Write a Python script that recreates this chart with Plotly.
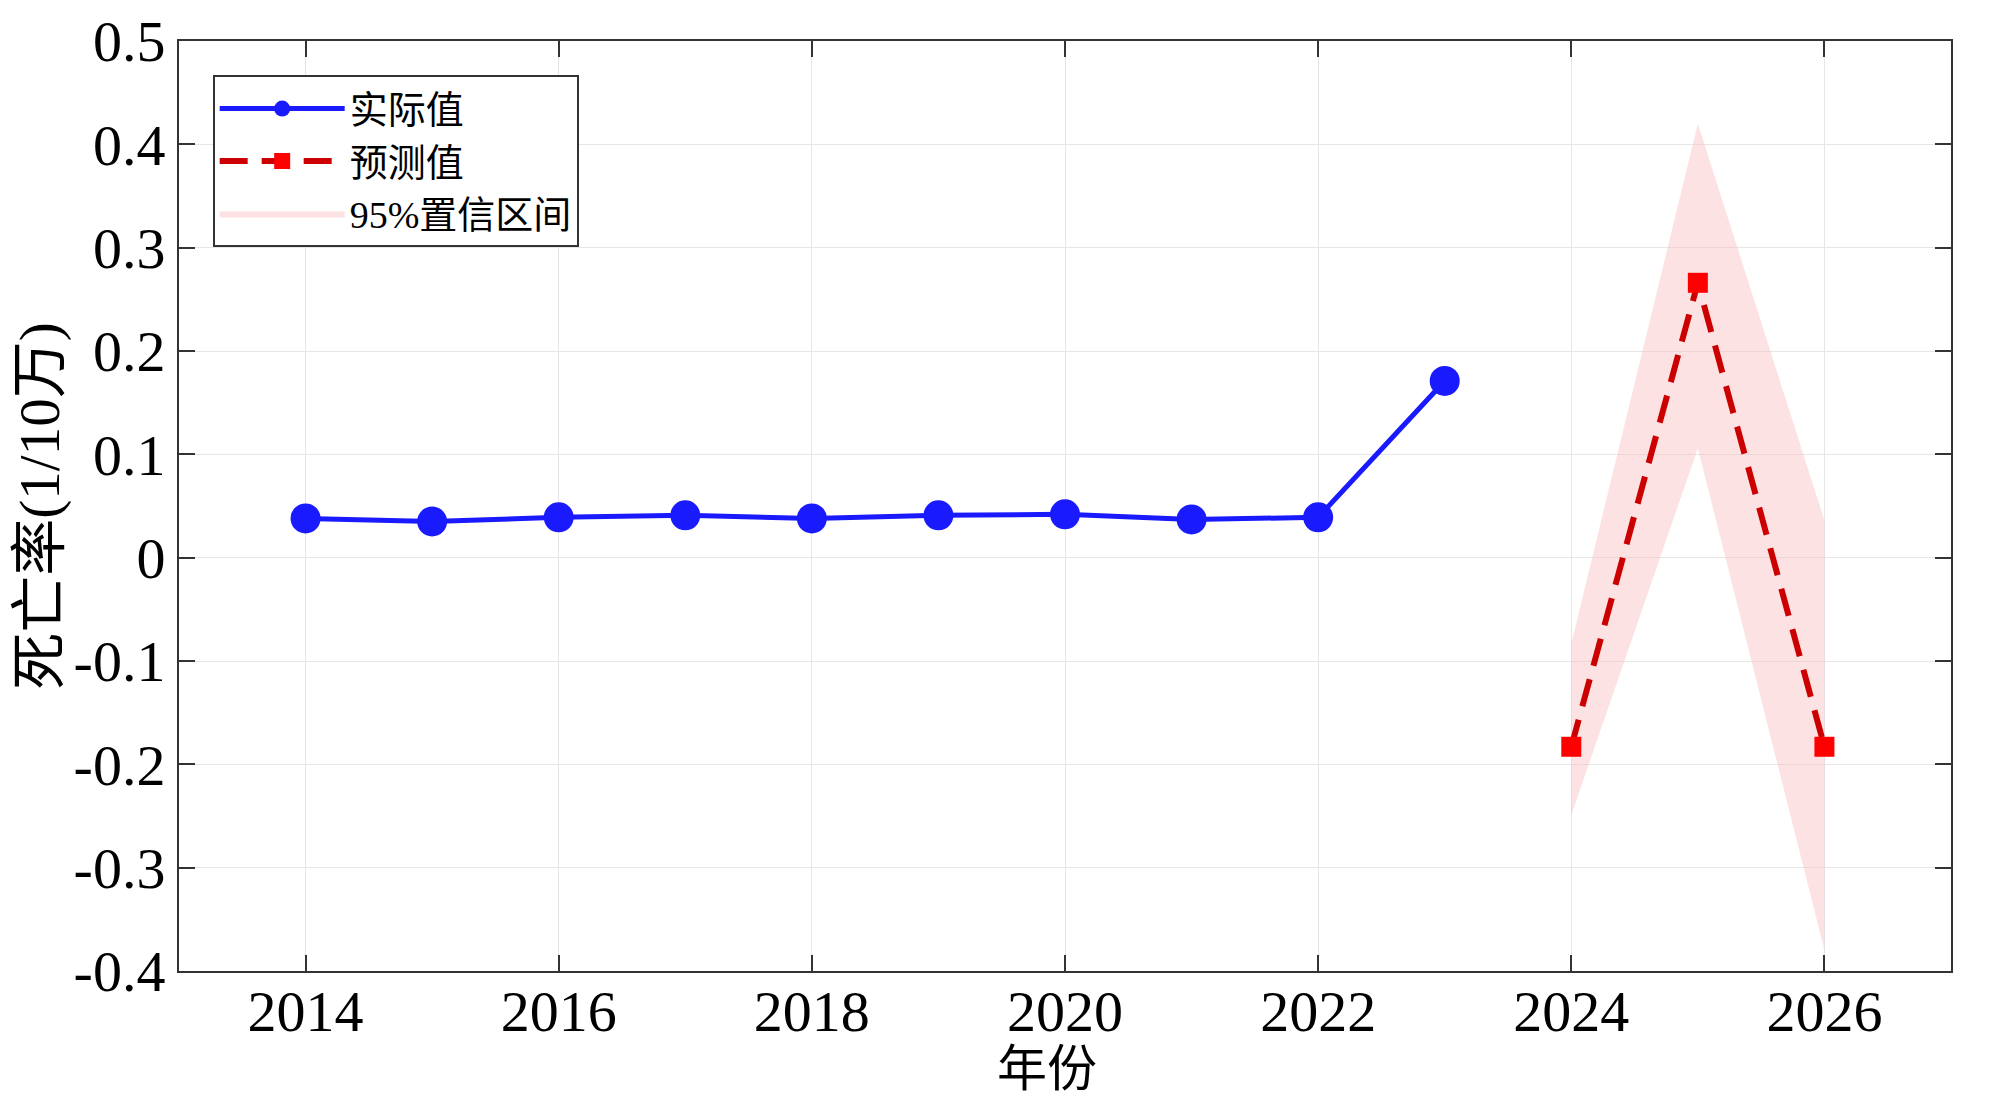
import plotly.graph_objects as go

# actual observations
years_actual = [2014, 2015, 2016, 2017, 2018, 2019, 2020, 2021, 2022, 2023]
rate_actual = [0.038, 0.035, 0.039, 0.041, 0.038, 0.041, 0.042, 0.037, 0.039, 0.171]

# forecast and 95% interval
years_pred = [2024, 2025, 2026]
rate_pred = [-0.183, 0.266, -0.183]
ci_upper = [-0.083, 0.420, 0.036]
ci_lower = [-0.249, 0.106, -0.380]

# tick labels (plain hyphen minus, as in the original)
y_ticks = [-0.4, -0.3, -0.2, -0.1, 0, 0.1, 0.2, 0.3, 0.4, 0.5]
y_ticktext = ["-0.4", "-0.3", "-0.2", "-0.1", "0", "0.1", "0.2", "0.3", "0.4", "0.5"]
x_ticks = [2014, 2016, 2018, 2020, 2022, 2024, 2026]

SERIF = "Liberation Serif, Times New Roman, Noto Sans CJK SC"

fig = go.Figure()

fig.add_trace(go.Scatter(
    x=years_pred + years_pred[::-1],
    y=ci_upper + ci_lower[::-1],
    fill="toself",
    fillcolor="rgba(248,190,190,0.45)",
    line=dict(width=0),
    mode="lines",
    name="95%置信区间",
    legendrank=3,
    hoverinfo="skip",
))

fig.add_trace(go.Scatter(
    x=years_actual,
    y=rate_actual,
    mode="lines+markers",
    name="实际值",
    legendrank=1,
    line=dict(color="#1a1aff", width=5),
    marker=dict(symbol="circle", size=30, color="#1a1aff"),
))

fig.add_trace(go.Scatter(
    x=years_pred,
    y=rate_pred,
    mode="lines+markers",
    name="预测值",
    legendrank=2,
    line=dict(color="#cc0000", width=6, dash="28px,14px"),
    marker=dict(symbol="square", size=20, color="#ff0000"),
))

axis_common = dict(
    automargin=False,
    showline=True,
    linecolor="#333333",
    linewidth=2,
    mirror="ticks",
    ticks="inside",
    ticklen=16,
    tickwidth=2,
    tickcolor="#333333",
    showgrid=True,
    gridcolor="#e6e6e6",
    gridwidth=1,
    zeroline=False,
    tickfont=dict(family=SERIF, size=58, color="black"),
)

fig.update_xaxes(
    range=[2013.0, 2027.0],
    tickmode="array",
    tickvals=x_ticks,
    ticklabelstandoff=-12,
    **axis_common,
)
fig.update_yaxes(
    range=[-0.4, 0.5],
    tickmode="array",
    tickvals=y_ticks,
    ticktext=y_ticktext,
    title=dict(text="死亡率(1/10万)", font=dict(family=SERIF, size=57, color="black"), standoff=0),
    **axis_common,
)

fig.add_annotation(
    text="年份",
    xref="paper", yref="paper",
    x=0.49, y=0,
    xanchor="center", yanchor="top",
    yshift=-68,
    showarrow=False,
    font=dict(family=SERIF, size=50, color="black"),
)

# the page body adds an 8px offset, so margins are shifted to keep the plot box in place
fig.update_layout(
    width=2000,
    height=1098,
    plot_bgcolor="white",
    paper_bgcolor="white",
    margin=dict(l=171, r=57, t=33, b=135),
    legend=dict(
        x=0.019, y=0.963,
        xanchor="left", yanchor="top",
        traceorder="normal",
        font=dict(family=SERIF, size=38, color="black"),
        bgcolor="white",
        bordercolor="#333333",
        borderwidth=2,
        itemwidth=125,
        tracegroupgap=0,
    ),
    showlegend=True,
)

fig.write_html("out.html")
